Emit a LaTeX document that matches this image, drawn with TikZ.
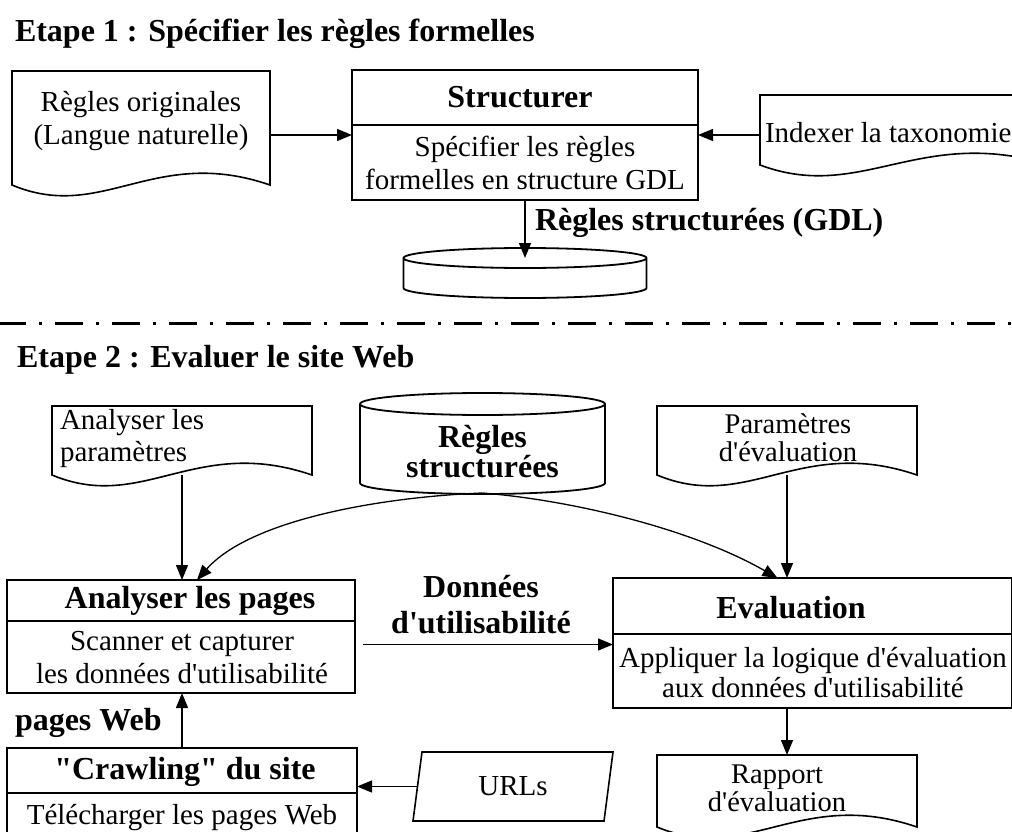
\documentclass[tikz,border=0pt]{standalone}
\usepackage{fontspec}
\setmainfont{Liberation Serif}
\usetikzlibrary{arrows.meta,calc,shapes.geometric}
\newcommand\ap{\textquotesingle}
\newcommand\dq{\textquotedbl}

\tikzset{
  every node/.style={inner sep=0pt, outer sep=0pt},
  txt/.style={font=\fontsize{29}{33}\selectfont, align=center},
  stxt/.style={font=\fontsize{28.5}{28}\selectfont, align=center},
  btxt/.style={font=\fontsize{32}{36}\selectfont\bfseries, align=center},
  area/.style={draw=none, minimum width=#1},
  procline/.style={draw, line width=2pt},
  docline/.style={line width=1.6pt},
  cylline/.style={line width=1.8pt},
  arr/.style={line width=1.3pt, -{Triangle[length=15pt,width=12pt]}},
  sepline/.style={line width=3pt, dash pattern=on 28pt off 13pt on 3pt off 13pt},
}
\newcommand\docpath[1]{%
  \draw[docline] (#1.south west) -- (#1.north west) -- (#1.north east) -- (#1.south east)
    .. controls ($(#1.south east)!0.45!(#1.south west)+(0,40)$) and ($(#1.south east)!0.65!(#1.south west)+(0,-38)$) .. (#1.south west) -- cycle;}
\newcommand\cylpath[3]{%
  \draw[cylline] (#1.north west) -- (#1.south west)
    arc[start angle=180,end angle=360,x radius=#2,y radius=#3] -- (#1.north east)
    arc[start angle=0,end angle=360,x radius=#2,y radius=#3];}

\begin{document}
\begin{tikzpicture}[x=1pt,y=1pt]
\useasboundingbox (0,0) rectangle (1012,-832);
\clip (0,0) rectangle (1012,-832);

% ---------- Stage 1 ----------
\node[btxt, anchor=west] (t1) at (15,-34) {Etape 1 : Spécifier les règles formelles};

\node[area=258, minimum height=114] (orig) at (141,-128) {};
\docpath{orig}
\node[txt] (origtxt) at (141,-121) {Règles originales\\(Langue naturelle)};

\node[procline, minimum width=346, minimum height=130] (struct) at (525,-135) {};
\draw[procline] (352,-125) -- (698,-125);
\node[btxt] (structt) at (520,-97) {Structurer};
\node[txt] (structb) at (525,-163) {Spécifier les règles\\formelles en structure GDL};

\node[area=290, minimum height=70] (idx) at (905,-130) {};
\docpath{idx}
\node[txt, anchor=west] (idxtxt) at (765,-133) {Indexer la taxonomie};

\node[area=243, minimum height=30] (cyl1) at (525,-273) {};
\cylpath{cyl1}{121.5}{10}

\coordinate (o1) at ([yshift=-7pt]orig.east);
\draw[arr] (o1) -- (o1 -| struct.west);
\coordinate (i1) at ([yshift=-5pt]idx.west);
\draw[arr] (i1) -- (i1 -| struct.east);
\draw[arr] (struct.south) -- (cyl1.north);
\node[btxt, anchor=west] (gdl) at (535,-223) {Règles structurées (GDL)};

% ---------- separator ----------
\coordinate (sepL) at (-2,-323);
\coordinate (sepR) at (1012,-323);
\draw[sepline] (sepL) -- (sepR);

% ---------- Stage 2 ----------
\node[btxt, anchor=west] (t2) at (17,-360) {Etape 2 : Evaluer le site Web};

\node[area=260, minimum height=69] (aparam) at (182,-440.5) {};
\docpath{aparam}
\node[txt, align=left, anchor=west, font=\fontsize{29}{32}\selectfont] (aparamtxt) at (60,-439) {Analyser les\\paramètres};

\node[area=245, minimum height=79] (cyl2) at (482.5,-443.5) {};
\cylpath{cyl2}{122.5}{11}
\node[btxt, font=\fontsize{32}{30}\selectfont\bfseries] (cyl2txt) at (482.5,-452) {Règles\\structurées};

\node[area=260, minimum height=69] (eparam) at (787,-440.5) {};
\docpath{eparam}
\node[stxt] (eparamtxt) at (788,-438) {Paramètres\\d\ap évaluation};

\node[procline, minimum width=348, minimum height=113] (apages) at (181,-636.5) {};
\draw[procline] (7,-621) -- (355,-621);
\node[btxt] (apagest) at (190,-601) {Analyser les pages};
\node[txt] (apagesb) at (182,-658) {Scanner et capturer\\les données d\ap utilisabilité};

\node[procline, minimum width=399, minimum height=130] (eval) at (812.5,-643) {};
\draw[procline] (613,-634) -- (1012,-634);
\node[btxt] (evalt) at (791,-608) {Evaluation};
\node[txt, font=\fontsize{29}{30}\selectfont] (evalb) at (813,-673) {Appliquer la logique d\ap évaluation\\aux données d\ap utilisabilité};

\node[procline, minimum width=350, minimum height=97] (crawl) at (182,-796.5) {};
\draw[procline] (7,-793) -- (357,-793);
\node[btxt] (crawlt) at (185,-772) {\dq Crawling\dq{} du site};
\node[txt] (crawlb) at (182,-818) {Télécharger les pages Web};

\node[draw, line width=1.6pt, trapezium, trapezium left angle=65, trapezium right angle=115,
      trapezium stretches body=true, minimum width=200, minimum height=69, txt] (urls) at (513,-786.5) {URLs};

\node[area=260, minimum height=72] (rapport) at (787,-791) {};
\docpath{rapport}
\node[stxt] (rapporttxt) at (777,-788) {Rapport\\d\ap évaluation};

% connectors
\draw[arr] (aparam.south) -- (aparam.south |- apages.north);
\draw[arr] (eparam.south) -- (eparam.south |- eval.north);
\coordinate (c2b) at ([yshift=-10pt]cyl2.south);
\coordinate (apin) at ([xshift=16pt]apages.north);
\coordinate (evin) at ([xshift=-35pt]eval.north);
\draw[arr] (c2b) .. controls (380,-497) and (250,-520) .. (apin);
\draw[arr] (c2b) .. controls (570,-500) and (690,-528) .. (evin);
\coordinate (d1) at ([xshift=8pt,yshift=-8pt]apages.east);
\draw[arr] (d1) -- (d1 -| eval.west);
\node[btxt] (dlbl) at (481,-605) {Données\\d\ap utilisabilité};
\draw[arr] (crawl.north) -- (crawl.north |- apages.south);
\node[btxt, anchor=west] (pweb) at (15,-723) {pages Web};
\draw[arr] (urls.west) -- (urls.west -| crawl.east);
\draw[arr] (rapport.north |- eval.south) -- (rapport.north);
\end{tikzpicture}
\end{document}
